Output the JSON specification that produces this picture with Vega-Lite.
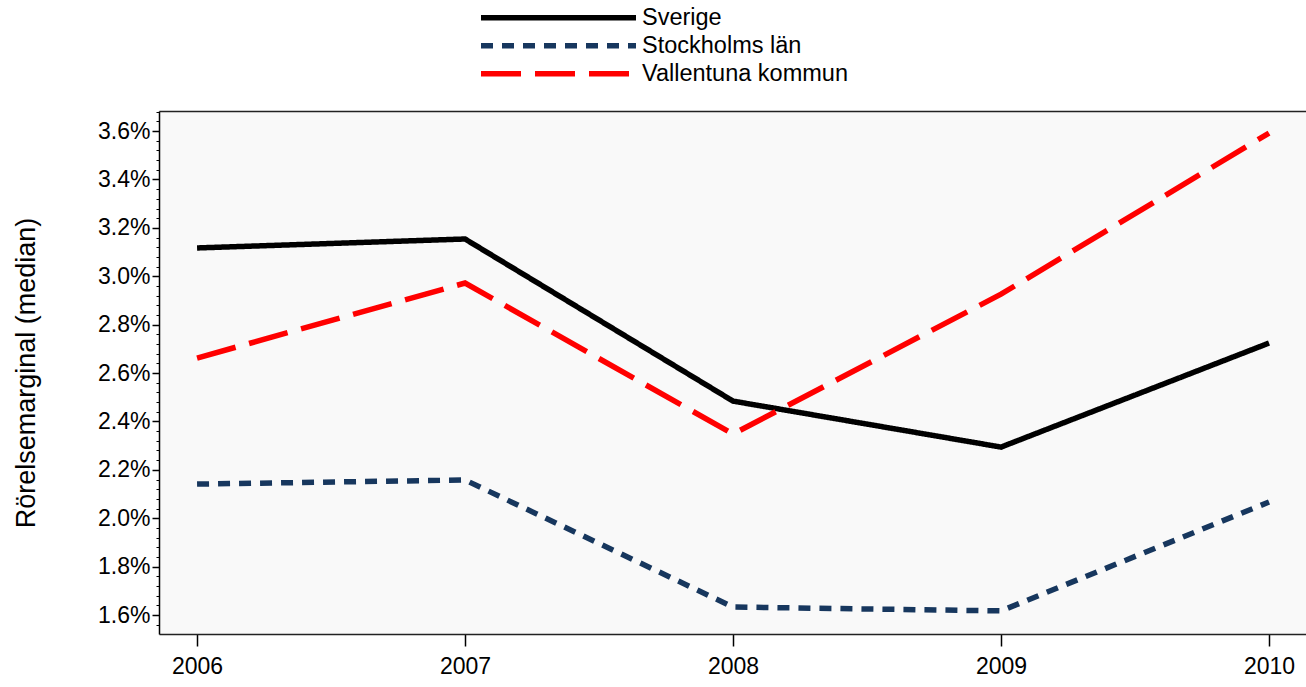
{
  "$schema": "https://vega.github.io/schema/vega-lite/v6.json",
  "width": 1147,
  "height": 523,
  "autosize": {"type": "none"},
  "padding": {"left": 159, "top": 111, "right": 0, "bottom": 53},
  "background": "#ffffff",
  "config": {
    "font": "Liberation Sans",
    "view": {"fill": "#f9f9f9", "stroke": null},
    "axis": {"grid": false, "labelFont": "Liberation Sans", "titleFont": "Liberation Sans", "domainColor": "#000000", "tickColor": "#000000", "labelColor": "#000000", "titleColor": "#000000"}
  },
  "data": {
    "values": [
      {"year": 2006, "region": "Sverige", "value": 3.117},
      {"year": 2007, "region": "Sverige", "value": 3.154},
      {"year": 2008, "region": "Sverige", "value": 2.484},
      {"year": 2009, "region": "Sverige", "value": 2.294},
      {"year": 2010, "region": "Sverige", "value": 2.724},
      {"year": 2006, "region": "Stockholms län", "value": 2.141},
      {"year": 2007, "region": "Stockholms län", "value": 2.158},
      {"year": 2008, "region": "Stockholms län", "value": 1.633},
      {"year": 2009, "region": "Stockholms län", "value": 1.617},
      {"year": 2010, "region": "Stockholms län", "value": 2.067},
      {"year": 2006, "region": "Vallentuna kommun", "value": 2.662},
      {"year": 2007, "region": "Vallentuna kommun", "value": 2.972},
      {"year": 2008, "region": "Vallentuna kommun", "value": 2.348},
      {"year": 2009, "region": "Vallentuna kommun", "value": 2.926},
      {"year": 2010, "region": "Vallentuna kommun", "value": 3.592}
    ]
  },
  "resolve": {"axis": {"x": "independent", "y": "independent"}},
  "layer": [
    {
      "mark": {"type": "line", "strokeCap": "butt", "strokeJoin": "miter", "clip": true},
      "encoding": {
        "x": {
          "field": "year", "type": "quantitative",
          "scale": {"domain": [2005.858, 2010.138], "nice": false, "zero": false},
          "axis": {"orient": "bottom", "values": [2006, 2007, 2008, 2009, 2010], "format": "d", "title": null, "tickSize": 12, "labelPadding": 9, "labelFontSize": 23, "domainWidth": 1.5, "tickWidth": 1.5, "domainColor": "#222222"}
        },
        "y": {
          "field": "value", "type": "quantitative",
          "scale": {"domain": [1.5215, 3.683], "nice": false, "zero": false},
          "axis": {"orient": "left", "values": [1.6, 1.8, 2.0, 2.2, 2.4, 2.6, 2.8, 3.0, 3.2, 3.4, 3.6], "labelExpr": "format(datum.value, '.1f') + '%'", "title": "Rörelsemarginal (median)", "titleFontSize": 27, "titleFontWeight": "normal", "titlePadding": 57, "tickSize": 7, "labelPadding": 2, "labelFontSize": 23, "domainWidth": 1.5, "tickWidth": 1.5}
        },
        "color": {
          "field": "region", "type": "nominal",
          "scale": {"domain": ["Sverige", "Stockholms län", "Vallentuna kommun"], "range": ["#000000", "#17375e", "#ff0000"]},
          "legend": {"orient": "none", "legendX": 319, "legendY": -107, "title": null, "direction": "vertical", "symbolType": "stroke", "symbolSize": 24025, "symbolStrokeWidth": 6, "clipHeight": 27.5, "labelFontSize": 23.5, "labelLimit": 500, "labelFont": "Liberation Sans", "labelColor": "#000000", "rowPadding": 0, "labelOffset": 3, "symbolOffset": 0}
        },
        "strokeDash": {
          "field": "region", "type": "nominal",
          "scale": {"domain": ["Sverige", "Stockholms län", "Vallentuna kommun"], "range": [[1, 0], [12, 9], [40, 14]]},
          "legend": {"orient": "none", "legendX": 319, "legendY": -107, "title": null, "direction": "vertical", "symbolType": "stroke", "symbolSize": 24025, "symbolStrokeWidth": 6, "clipHeight": 27.5, "labelFontSize": 23.5, "labelLimit": 500, "labelFont": "Liberation Sans", "labelColor": "#000000", "rowPadding": 0, "labelOffset": 3, "symbolOffset": 0}
        },
        "strokeWidth": {
          "field": "region", "type": "nominal",
          "scale": {"domain": ["Sverige", "Stockholms län", "Vallentuna kommun"], "range": [5.5, 5.5, 7]},
          "legend": null
        }
      }
    },
    {
      "mark": {"type": "line", "opacity": 0},
      "encoding": {
        "x": {
          "field": "year", "type": "quantitative",
          "scale": {"domain": [2005.858, 2010.138], "nice": false, "zero": false},
          "axis": {"orient": "top", "ticks": false, "labels": false, "title": null, "domainWidth": 1.5, "domainColor": "#222222"}
        },
        "y": {
          "field": "value", "type": "quantitative",
          "scale": {"domain": [1.5215, 3.683], "nice": false, "zero": false},
          "axis": {"orient": "left", "values": [1.56, 1.6, 1.64, 1.68, 1.72, 1.76, 1.8, 1.84, 1.88, 1.92, 1.96, 2.0, 2.04, 2.08, 2.12, 2.16, 2.2, 2.24, 2.28, 2.32, 2.36, 2.4, 2.44, 2.48, 2.52, 2.56, 2.6, 2.64, 2.68, 2.72, 2.76, 2.8, 2.84, 2.88, 2.92, 2.96, 3.0, 3.04, 3.08, 3.12, 3.16, 3.2, 3.24, 3.28, 3.32, 3.36, 3.4, 3.44, 3.48, 3.52, 3.56, 3.6, 3.64, 3.68], "labels": false, "title": null, "tickSize": 3, "tickWidth": 1, "domain": false}
        },
        "detail": {"field": "region", "type": "nominal"}
      }
    }
  ]
}
